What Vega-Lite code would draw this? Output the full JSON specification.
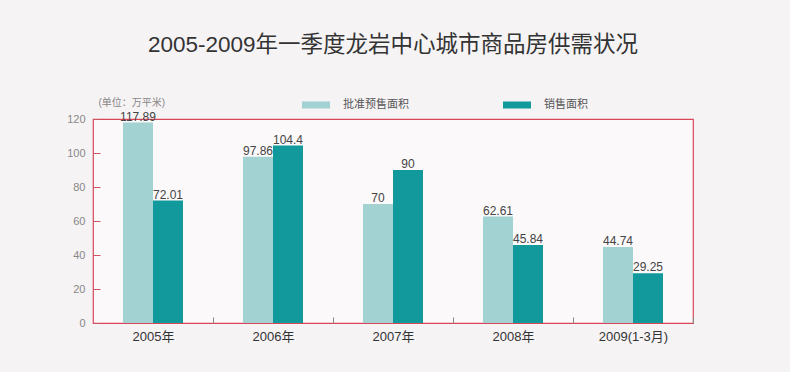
{
  "$schema": "https://vega.github.io/schema/vega-lite/v6.json",
  "width": 600,
  "height": 204,
  "autosize": {"type": "none"},
  "padding": {"left": 93, "top": 119, "right": 97, "bottom": 49},
  "background": "#f6f3f5",
  "title": {
    "text": "2005-2009年一季度龙岩中心城市商品房供需状况",
    "font": "Liberation Sans, Noto Sans CJK SC",
    "fontSize": 22.5,
    "fontWeight": "normal",
    "color": "#333333",
    "anchor": "middle",
    "offset": 35
  },
  "config": {
    "view": {"stroke": "#d9465a", "strokeWidth": 1.2, "fill": "#fbf9fa"},
    "font": "Liberation Sans, Noto Sans CJK SC"
  },
  "data": {
    "values": [
      {"year": "2005年", "series": "批准预售面积", "value": 117.89},
      {"year": "2005年", "series": "销售面积", "value": 72.01},
      {"year": "2006年", "series": "批准预售面积", "value": 97.86},
      {"year": "2006年", "series": "销售面积", "value": 104.4},
      {"year": "2007年", "series": "批准预售面积", "value": 70},
      {"year": "2007年", "series": "销售面积", "value": 90},
      {"year": "2008年", "series": "批准预售面积", "value": 62.61},
      {"year": "2008年", "series": "销售面积", "value": 45.84},
      {"year": "2009(1-3月)", "series": "批准预售面积", "value": 44.74},
      {"year": "2009(1-3月)", "series": "销售面积", "value": 29.25}
    ]
  },
  "encoding": {
    "x": {
      "field": "year",
      "type": "nominal",
      "sort": null,
      "scale": {"paddingInner": 0.5, "paddingOuter": 0.25},
      "axis": {
        "title": null,
        "labelAngle": 0,
        "labelFontSize": 13,
        "labelColor": "#333333",
        "labelPadding": 7,
        "labelOffset": -60,
        "offset": -6,
        "domain": false,
        "ticks": true,
        "tickBand": "center",
        "tickOffset": 60,
        "tickSize": 6,
        "tickColor": "#888888"
      }
    },
    "xOffset": {"field": "series", "type": "nominal", "sort": ["批准预售面积", "销售面积"]},
    "y": {
      "field": "value",
      "type": "quantitative",
      "scale": {"domain": [0, 120], "nice": false},
      "axis": {
        "values": [0, 20, 40, 60, 80, 100, 120],
        "grid": false,
        "domain": false,
        "offset": -7,
        "tickSize": 7,
        "tickColor": "#cc5566",
        "labelColor": "#888888",
        "labelFontSize": 11,
        "labelPadding": 8,
        "title": "(单位：万平米)",
        "titleAngle": 0,
        "titleAlign": "left",
        "titleBaseline": "middle",
        "titleX": -2,
        "titleY": -17,
        "titleFontSize": 10,
        "titleFontWeight": "normal",
        "titleColor": "#888888"
      }
    }
  },
  "layer": [
    {
      "mark": {"type": "bar"},
      "encoding": {
        "color": {
          "field": "series",
          "type": "nominal",
          "sort": ["批准预售面积", "销售面积"],
          "scale": {"domain": ["批准预售面积", "销售面积"], "range": ["#a2d2d2", "#12999b"]},
          "legend": {
            "title": null,
            "orient": "none",
            "legendX": 209,
            "legendY": -28,
            "direction": "horizontal",
            "padding": 0,
            "symbolType": "M-1,-0.25H1V0.25H-1Z",
            "symbolSize": 784,
            "symbolStrokeWidth": 0,
            "labelFontSize": 11,
            "labelColor": "#555555",
            "labelOffset": 13,
            "columnPadding": 94
          }
        }
      }
    },
    {
      "mark": {"type": "text", "dy": -6, "fontSize": 12, "color": "#444444"},
      "encoding": {
        "text": {"field": "value", "type": "quantitative"}
      }
    }
  ]
}
